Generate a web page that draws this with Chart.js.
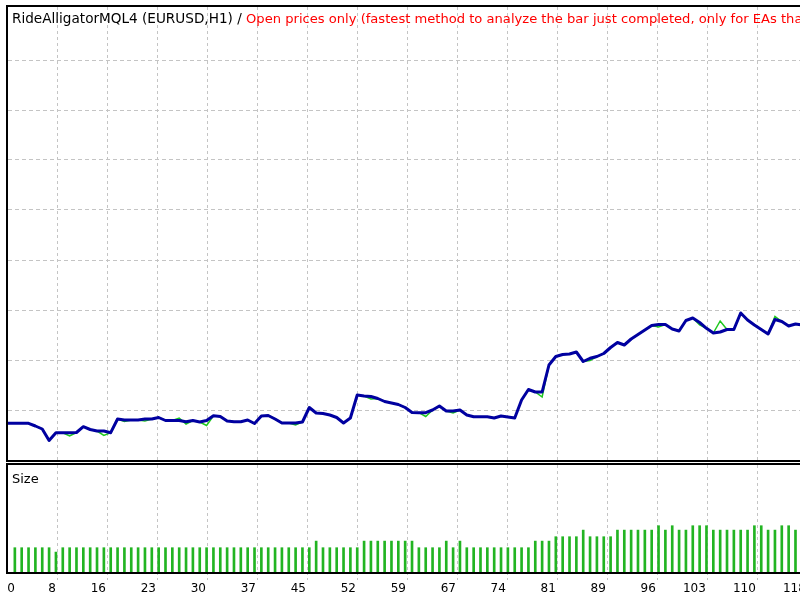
<!DOCTYPE html>
<html><head><meta charset="utf-8">
<script src="https://cdn.jsdelivr.net/npm/chart.js@4.4.1/dist/chart.umd.min.js"></script>
<style>
html,body{margin:0;padding:0;background:#fff;overflow:hidden;width:800px;height:600px;}
#wrap{position:relative;width:800px;height:600px;overflow:hidden;background:#fff;}
canvas{position:absolute;left:0;}
#c1{top:0}
#c2{top:462px}
.lbl{position:absolute;font-family:'DejaVu Sans';white-space:nowrap;line-height:1;}
#title{left:12px;top:12px;font-size:13.6px;color:#000}
#title .red{color:#ff0000;font-size:13.1px}
#size{left:12px;top:472px;font-size:13px;color:#000}
</style></head>
<body><div id="wrap">
<canvas id="c1" width="840" height="462"></canvas>
<canvas id="c2" width="840" height="138"></canvas>
<div id="title" class="lbl">RideAlligatorMQL4 (EURUSD,H1) / <span class="red">Open prices only (fastest method to analyze the bar just completed, only for EAs that explicitly control bar opening)</span></div>
<div id="size" class="lbl">Size</div>
</div>
<script>
// ---- data (trade number = array position) ----
const balance = [
10000,10000,10000,10000,9973,9943,9828,9906,9906,9906,
9908,9966,9938,9923,9923,9906,10043,10033,10033,10033,
10043,10043,10058,10028,10028,10028,10016,10028,10013,10028,
10076,10068,10023,10016,10016,10033,9998,10073,10078,10043,
10003,10003,10003,10013,10158,10103,10098,10083,10058,10003,
10053,10283,10273,10268,10248,10218,10203,10188,10158,10108,
10106,10106,10133,10173,10123,10123,10133,10083,10066,10066,
10066,10053,10073,10063,10053,10233,10338,10313,10313,10583,
10668,10688,10693,10713,10618,10650,10668,10698,10758,10808,
10783,10843,10888,10933,10978,10988,10988,10943,10923,11028,
11053,11008,10950,10903,10913,10938,10938,11103,11033,10983,
10938,10893,11038,11018,10973,10993,10983,10983,10983];
const equity = [
10000,10000,10000,10000,9973,9943,9828,9906,9906,9873,
9908,9966,9938,9923,9878,9906,10043,10018,10033,10033,
10023,10043,10058,10028,10028,10053,9993,10028,10013,9978,
10076,10068,10023,10016,10016,10033,9998,10073,10078,10043,
10003,10003,9983,10013,10158,10103,10098,10083,10058,10003,
10053,10283,10273,10243,10248,10218,10203,10188,10158,10108,
10106,10068,10133,10173,10123,10103,10133,10083,10066,10066,
10066,10053,10073,10063,10053,10233,10338,10313,10263,10583,
10668,10688,10693,10713,10618,10628,10668,10698,10758,10808,
10783,10843,10888,10933,10978,10963,10988,10943,10923,11028,
11053,10983,10950,10903,11023,10938,10938,11103,11033,10983,
10938,10893,11068,11018,10973,10993,10983,10983,10983];
// lot size of trades 1..118
const lots = [
0.10,0.10,0.10,0.10,0.10,0.10,0.08,0.10,0.10,0.10,
0.10,0.10,0.10,0.10,0.10,0.10,0.10,0.10,0.10,0.10,
0.10,0.10,0.10,0.10,0.10,0.10,0.10,0.10,0.10,0.10,
0.10,0.10,0.10,0.10,0.10,0.10,0.10,0.10,0.10,0.10,
0.10,0.10,0.10,0.10,0.13,0.10,0.10,0.10,0.10,0.10,
0.10,0.13,0.13,0.13,0.13,0.13,0.13,0.13,0.13,0.10,
0.10,0.10,0.10,0.13,0.10,0.13,0.10,0.10,0.10,0.10,
0.10,0.10,0.10,0.10,0.10,0.10,0.13,0.13,0.13,0.15,
0.15,0.15,0.15,0.18,0.15,0.15,0.15,0.15,0.18,0.18,
0.18,0.18,0.18,0.18,0.20,0.18,0.20,0.18,0.18,0.20,
0.20,0.20,0.18,0.18,0.18,0.18,0.18,0.18,0.20,0.20,
0.18,0.18,0.20,0.20,0.18,0.20,0.18,0.18];
const xTickLabels = [0,8,16,23,30,37,45,52,59,67,74,81,89,96,103,110,118];
const yGridValues = [10133,10633,11133,11633,12133,12633,13133,13633];

// ---- scale settings ----
const X_MAX = 121.5;      // trades across the (partly cropped) panel
const X_GRID_STEP = 7.3;  // trades between vertical grid lines
const X_FIRST_LABEL = 1.3;
const Y_MIN = 9633, Y_MAX = 14163;
const SIZE_MIN = -0.0105, SIZE_MAX = 0.476;

const GRID = '#c4c4c4';
Chart.defaults.font.family = "'DejaVu Sans'";
Chart.defaults.font.size = 12;
Chart.defaults.color = '#000';

const frame = {id:'frame', afterDraw(chart){
  const {ctx, chartArea:a} = chart;
  ctx.save(); ctx.strokeStyle = '#000'; ctx.lineWidth = 2;
  ctx.strokeRect(a.left-1, a.top-1, a.right-a.left+2, a.bottom-a.top+2);
  ctx.restore();
}};

function xTicks(scale){
  scale.ticks = xTickLabels.map((l,k)=>({value: k===0 ? X_FIRST_LABEL : k*X_GRID_STEP}));
}
const gridColor = ctx => (ctx.index===0 ? 'rgba(0,0,0,0)' : GRID);

new Chart(document.getElementById('c1'), {
  type: 'line',
  data: { datasets: [
    { data: balance.map((v,i)=>({x:i,y:v})), borderColor:'#0000a0', borderWidth:3,
      pointRadius:0, tension:0, order:0, borderJoinStyle:'round', borderCapStyle:'round' },
    { data: equity.map((v,i)=>({x:i,y:v})), borderColor:'#1ec81e', borderWidth:1.5,
      pointRadius:0, tension:0, order:1 }
  ]},
  options: {
    responsive:false, animation:false, devicePixelRatio:1,
    layout:{padding:{left:8, top:7, right:0, bottom:2}},
    plugins:{legend:{display:false}, tooltip:{enabled:false}},
    scales:{
      x:{type:'linear', min:0, max:X_MAX, afterBuildTicks:xTicks,
         afterFit:s=>{s.height=0;},
         ticks:{display:false},
         grid:{color:gridColor, lineWidth:1, drawTicks:false},
         border:{display:false, dash:[3,3]}},
      y:{min:Y_MIN, max:Y_MAX,
         afterBuildTicks:s=>{s.ticks = yGridValues.map(v=>({value:v}));},
         afterFit:s=>{s.width=0;},
         ticks:{display:false},
         grid:{color:GRID, lineWidth:1, drawTicks:false},
         border:{display:false, dash:[4,3]}}
    }
  },
  plugins:[frame]
});

new Chart(document.getElementById('c2'), {
  type: 'bar',
  data: { datasets: [
    { data: lots.map((v,i)=>({x:i+1,y:v})), backgroundColor:'#22b422',
      barThickness:2, base:SIZE_MIN }
  ]},
  options: {
    responsive:false, animation:false, devicePixelRatio:1,
    layout:{padding:{left:8, top:3, right:0, bottom:0}},
    plugins:{legend:{display:false}, tooltip:{enabled:false}},
    scales:{
      x:{type:'linear', min:0, max:X_MAX, offset:false, afterBuildTicks:xTicks,
         afterFit:s=>{s.height=28;},
         ticks:{autoSkip:false, maxRotation:0, align:'end', labelOffset:-2, padding:2,
                callback:(v,i)=>String(xTickLabels[i]), font:{size:12}},
         grid:{color:gridColor, tickColor:gridColor, lineWidth:1, drawTicks:true, tickLength:8,
               tickBorderDash:[3,3], offset:false},
         border:{display:false, dash:[3,3]}},
      y:{display:false, min:SIZE_MIN, max:SIZE_MAX}
    }
  },
  plugins:[frame]
});
</script>
</body></html>
